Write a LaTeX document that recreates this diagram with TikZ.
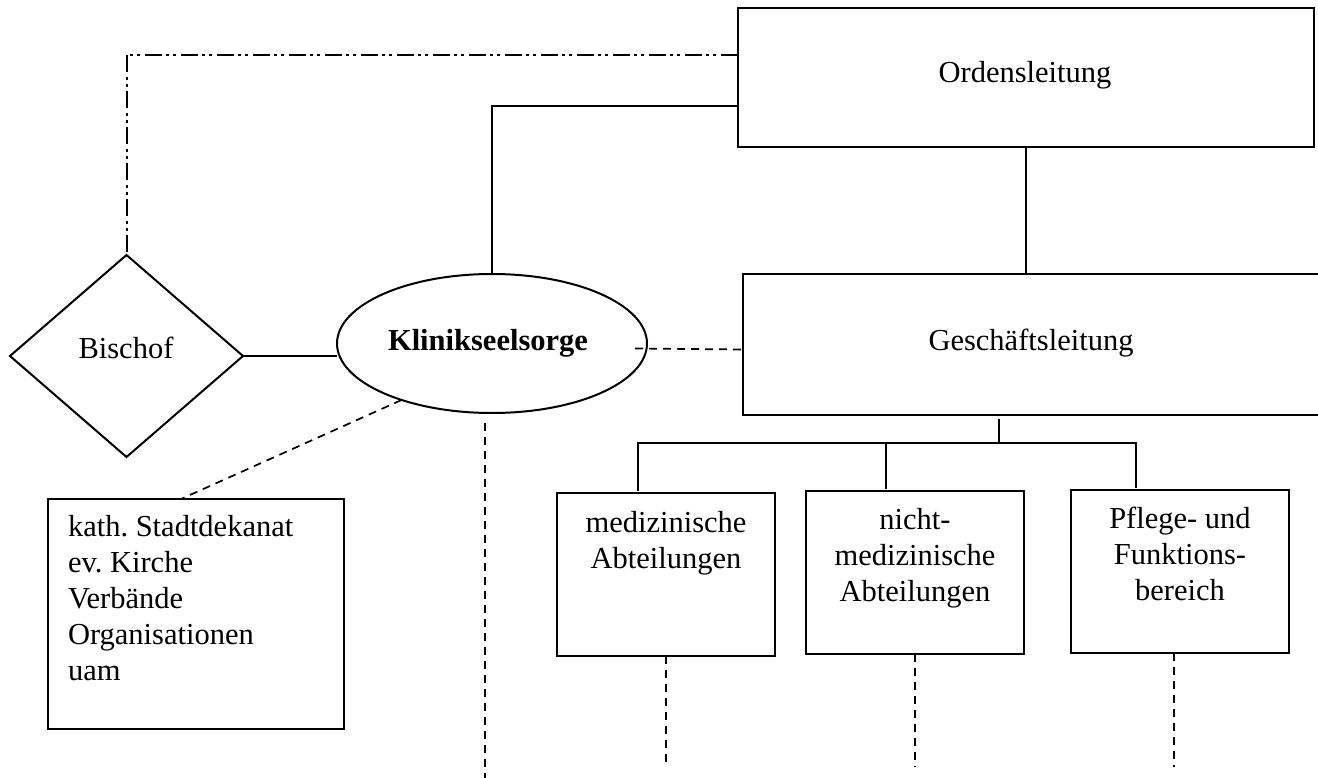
\documentclass[tikz,border=0pt]{standalone}
\usepackage{fontspec}
\setmainfont{Liberation Serif}
\usetikzlibrary{shapes.geometric,calc}
\frenchspacing
\begin{document}
\begin{tikzpicture}[x=1pt,y=-1pt,
  line width=2pt,
  txt/.style={font=\fontsize{30.5}{36}\selectfont, inner sep=0pt, outer sep=0pt},
  box/.style={draw, rectangle, inner sep=0pt, outer sep=0pt},
  dsh/.style={dash pattern=on 8pt off 6pt, line width=1.7pt},
  ddot/.style={dash pattern=on 17pt off 5pt on 3pt off 4pt on 3pt off 4pt, line width=2pt}
]
\clip (0,0) rectangle (1318,778);
\fill[white] (0,0) rectangle (1318,778);

% shapes
\node[box, minimum width=576, minimum height=139] (ord) at (1026,77.5) {};
\node[box, minimum width=587, minimum height=141] (ges) at (1036.5,344.5) {};
\node[draw, diamond, minimum width=233, minimum height=202, inner sep=0pt, outer sep=0pt] (bis) at (126.5,356) {};
\node[draw, ellipse, minimum width=310, minimum height=139, inner sep=0pt, outer sep=0pt] (kl) at (492,343.5) {};
\node[box, minimum width=296, minimum height=230] (kath) at (196,614) {};
\node[box, minimum width=218, minimum height=163] (med) at (666,574.5) {};
\node[box, minimum width=218, minimum height=163] (nm) at (915,572.5) {};
\node[box, minimum width=218, minimum height=163] (pf) at (1180,571.5) {};

% texts
\node[txt, anchor=base] (tord) at (1025,83) {Ordensleitung};
\node[txt, anchor=base] (tges) at (1031,350) {Geschäftsleitung};
\node[txt, anchor=base] (tbis) at (126,358) {Bischof};
\node[txt, anchor=base, font=\fontsize{30.5}{36}\selectfont\bfseries] (tkl) at (488,350) {Klinikseelsorge};
\node[txt, anchor=north west, align=left] (tkath) at (68,515) {kath. Stadtdekanat\\ev. Kirche\\Verbände\\Organisationen\\uam};
\node[txt, anchor=north, align=center] (tmed) at (666,511) {medizinische\\Abteilungen};
\node[txt, anchor=north, align=center] (tnm) at (915,508) {nicht-\\medizinische\\Abteilungen};
\node[txt, anchor=north, align=center] (tpf) at (1180,507) {Pflege- und\\Funktions-\\bereich};

% coordinates
\coordinate (tj) at (999,443);
\coordinate (bot) at (0,767);
\coordinate (kend) at (485,780);

% connectors
\draw[ddot] ([yshift=-47pt]ord.north west) -| (bis.north);
\draw ([yshift=-98pt]ord.north west) -| (kl.north);
\draw (ord.south) -- (ord.south |- ges.north);
\draw (bis.east) -- (kl.west |- bis.east);
\draw[dsh] ([xshift=-12pt,yshift=-5pt]kl.east) -- ([yshift=-5pt]ges.west);
\draw[dsh] (kl.212) -- ([xshift=-15pt]kath.north);
\draw[dsh] ($(kend |- kl.south)+(0,10)$) -- (kend);

% tree
\draw ($(tj |- ges.south)+(0,4)$) -- (tj);
\draw ($(med.north)+(-28,-2)$) |- (tj) -| ($(pf.north)+(-44,-2)$);
\path ($(nm.north)+(-29,-2)$) coordinate (nmd);
\draw (nmd) -- (nmd |- tj);

\draw[dsh] (med.south) -- (med.south |- bot);
\draw[dsh] (nm.south) -- (nm.south |- bot);
\draw[dsh] ($(pf.south)+(-6,0)$) coordinate (pfd) -- (pfd |- bot);
\end{tikzpicture}
\end{document}
